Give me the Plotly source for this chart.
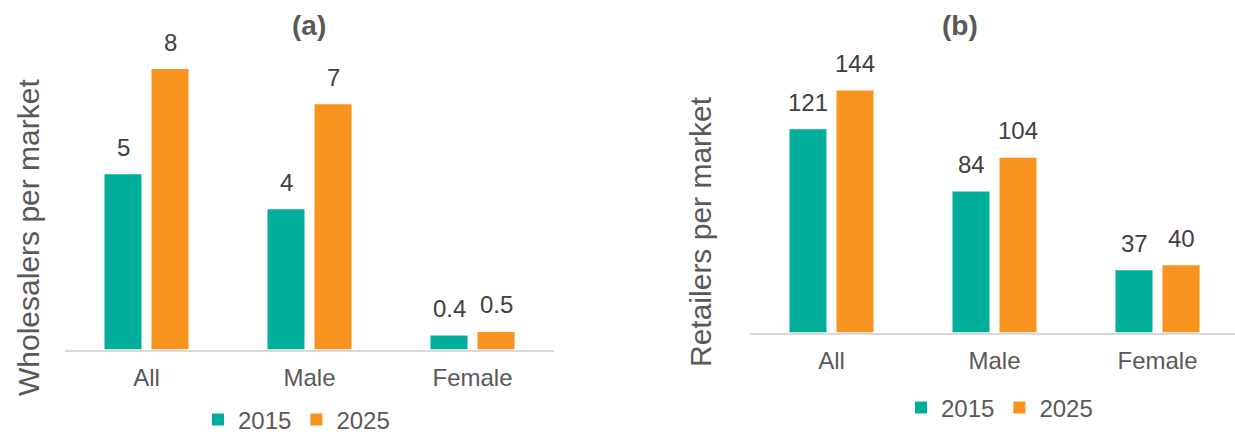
import plotly.graph_objects as go

# Categories and values per panel
categories = ["All", "Male", "Female"]
years = ["2015", "2025"]
wholesalers_2015 = [5, 4, 0.4]
wholesalers_2025 = [8, 7, 0.5]
retailers_2015 = [121, 84, 37]
retailers_2025 = [144, 104, 40]

panel_titles = ["(a)", "(b)"]
y_titles = ["Wholesalers per market", "Retailers per market"]

TEAL = "#00AF9B"
ORANGE = "#F7931E"
FONT = "Liberation Sans, Arial, sans-serif"
W, H = 1235, 434

fig = go.Figure()

panels = [
    dict(vals=[wholesalers_2015, wholesalers_2025], xa="x", ya="y", legend="legend"),
    dict(vals=[retailers_2015, retailers_2025], xa="x2", ya="y2", legend="legend2"),
]

for p in panels:
    for year, vals, color in zip(years, p["vals"], [TEAL, ORANGE]):
        fig.add_trace(go.Bar(
            x=categories, y=vals, name=year,
            marker=dict(color=color, line=dict(width=0)),
            xaxis=p["xa"], yaxis=p["ya"], legend=p["legend"],
            hoverinfo="skip",
        ))

# Value labels above each bar
annotations = []
for p in panels:
    for k, vals in enumerate(p["vals"]):
        for cat, v in zip(categories, vals):
            annotations.append(dict(
                x=cat, y=v, xref=p["xa"], yref=p["ya"],
                text=f"{v:g}", showarrow=False,
                xshift=-23.5 if k == 0 else 23.5,
                yanchor="middle", yshift=27,
                font=dict(family=FONT, size=24, color="#404040"),
            ))

# Panel titles
for txt, cx in zip(panel_titles, [309, 960]):
    annotations.append(dict(
        x=cx / W, y=1 - 26 / H, xref="paper", yref="paper",
        text=f"<b>{txt}</b>", showarrow=False,
        xanchor="center", yanchor="middle",
        font=dict(family=FONT, size=28, color="#595959"),
    ))

# Y-axis titles
for txt, cx, cy in zip(y_titles, [29, 700], [238, 232]):
    annotations.append(dict(
        x=cx / W, y=1 - cy / H, xref="paper", yref="paper",
        text=txt, showarrow=False, textangle=-90,
        xanchor="center", yanchor="middle",
        font=dict(family=FONT, size=30, color="#595959"),
    ))

xcommon = dict(
    type="category", showgrid=False, zeroline=False,
    showline=True, linecolor="#D9D9D9", linewidth=1.5,
    ticks="", ticklabelstandoff=6,
    tickfont=dict(family=FONT, size=24, color="#595959"),
    fixedrange=True,
)
ycommon = dict(showgrid=False, zeroline=False, showline=False,
               showticklabels=False, ticks="", fixedrange=True)

legend_font = dict(family=FONT, size=24, color="#595959")

fig.update_layout(
    width=W, height=H,
    margin=dict(l=0, r=0, t=0, b=0, autoexpand=False),
    paper_bgcolor="white", plot_bgcolor="white",
    barmode="group", bargap=0.423, bargroupgap=0.213,
    font=dict(family=FONT, color="#595959"),
    xaxis=dict(domain=[65 / W, 554 / W], range=[-0.5, 2.5], anchor="y", **xcommon),
    yaxis=dict(domain=[(H - 349.5) / H, 1], range=[0, 349.5 / 35.05], anchor="x", **ycommon),
    xaxis2=dict(domain=[750 / W, 1], range=[-0.5, 2.5 - 4 / 163], anchor="y2", **xcommon),
    yaxis2=dict(domain=[(H - 332.5) / H, 1], range=[0, 332.5 / 1.68], anchor="x2", **ycommon),
    legend=dict(orientation="h", x=296.5 / W, y=1 - 420 / H, xanchor="center", yanchor="middle",
                font=legend_font, bgcolor="rgba(0,0,0,0)"),
    legend2=dict(orientation="h", x=999.5 / W, y=1 - 408 / H, xanchor="center", yanchor="middle",
                 font=legend_font, bgcolor="rgba(0,0,0,0)"),
    annotations=annotations,
    showlegend=True,
)

fig.write_html("out.html")
